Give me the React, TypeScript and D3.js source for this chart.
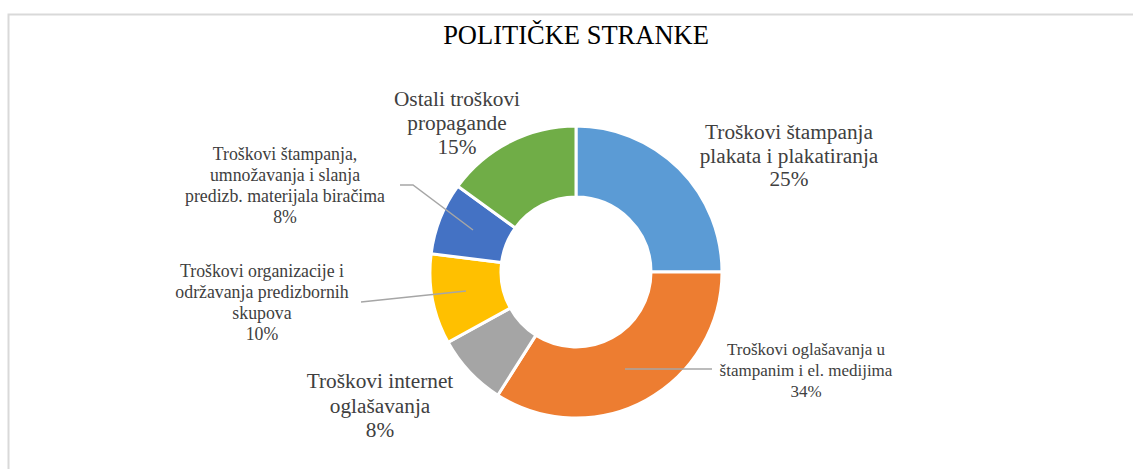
import React, { useEffect, useRef } from 'react';
import * as d3 from 'd3';

const categories = [
  ['Troškovi štampanja', 'plakata i plakatiranja'],
  ['Troškovi oglašavanja u', 'štampanim i el. medijima'],
  ['Troškovi internet', 'oglašavanja'],
  ['Troškovi organizacije i', 'održavanja predizbornih', 'skupova'],
  ['Troškovi štampanja,', 'umnožavanja i slanja', 'predizb. materijala biračima'],
  ['Ostali troškovi', 'propagande'],
];
const values = [25, 34, 8, 10, 8, 15];
const colors = ['#5b9bd5', '#ed7d31', '#a5a5a5', '#ffc000', '#4472c4', '#70ad47'];

// label placement (centre x, first baseline, font size) and optional leader lines
const labelPos = [
  { x: 789, y: 139, size: 21.3, lh: 23.5 },
  { x: 806, y: 355, size: 17, lh: 21 },
  { x: 380, y: 388, size: 21.3, lh: 24.5 },
  { x: 262, y: 277, size: 17.8, lh: 21 },
  { x: 285, y: 160, size: 17.8, lh: 21 },
  { x: 457, y: 106, size: 21.3, lh: 24 },
];
const leaders: Record<number, [number, number][]> = {
  1: [[712, 369], [625, 369]],
  3: [[361, 302], [466, 291]],
  4: [[400, 185], [413, 185], [473, 230]],
};

const FONT = "'Liberation Serif', Tinos, 'DejaVu Serif', serif";
const W = 1133;
const H = 469;
const cx = 576;
const cy = 272;
const outerR = 146;
const innerR = 75;

export default function App() {
  const ref = useRef<SVGSVGElement>(null);

  useEffect(() => {
    const svg = d3.select(ref.current);
    svg.selectAll('*').remove();

    // chart frame
    svg
      .append('rect')
      .attr('x', 8.5)
      .attr('y', 14.5)
      .attr('width', W + 20)
      .attr('height', H + 20)
      .attr('fill', '#fff')
      .attr('stroke', '#d9d9d9')
      .attr('stroke-width', 2);

    svg
      .append('text')
      .attr('x', cx)
      .attr('y', 44)
      .attr('text-anchor', 'middle')
      .attr('font-family', FONT)
      .attr('font-size', 26.5)
      .attr('fill', '#000')
      .text('POLITIČKE STRANKE');

    const pie = d3.pie<number>().sort(null).value((d) => d);
    const arc = d3.arc<d3.PieArcDatum<number>>().innerRadius(innerR).outerRadius(outerR);

    const g = svg.append('g').attr('transform', `translate(${cx},${cy})`);
    g.selectAll('path')
      .data(pie(values))
      .enter()
      .append('path')
      .attr('d', arc)
      .attr('fill', (_, i) => colors[i])
      .attr('stroke', '#fff')
      .attr('stroke-width', 3);

    // leader lines
    Object.entries(leaders).forEach(([, pts]) => {
      svg
        .append('path')
        .attr('d', d3.line()(pts))
        .attr('fill', 'none')
        .attr('stroke', '#a6a6a6')
        .attr('stroke-width', 1.5);
    });

    // labels
    categories.forEach((lines, i) => {
      const p = labelPos[i];
      const t = svg
        .append('text')
        .attr('text-anchor', 'middle')
        .attr('font-family', FONT)
        .attr('font-size', p.size)
        .attr('fill', '#404040');
      [...lines, `${values[i]}%`].forEach((line, j) => {
        t.append('tspan').attr('x', p.x).attr('y', p.y + j * p.lh).text(line);
      });
    });
  }, []);

  return (
    <svg
      ref={ref}
      width={W}
      height={H}
      style={{ position: 'absolute', left: 0, top: 0, background: '#fff' }}
    />
  );
}
